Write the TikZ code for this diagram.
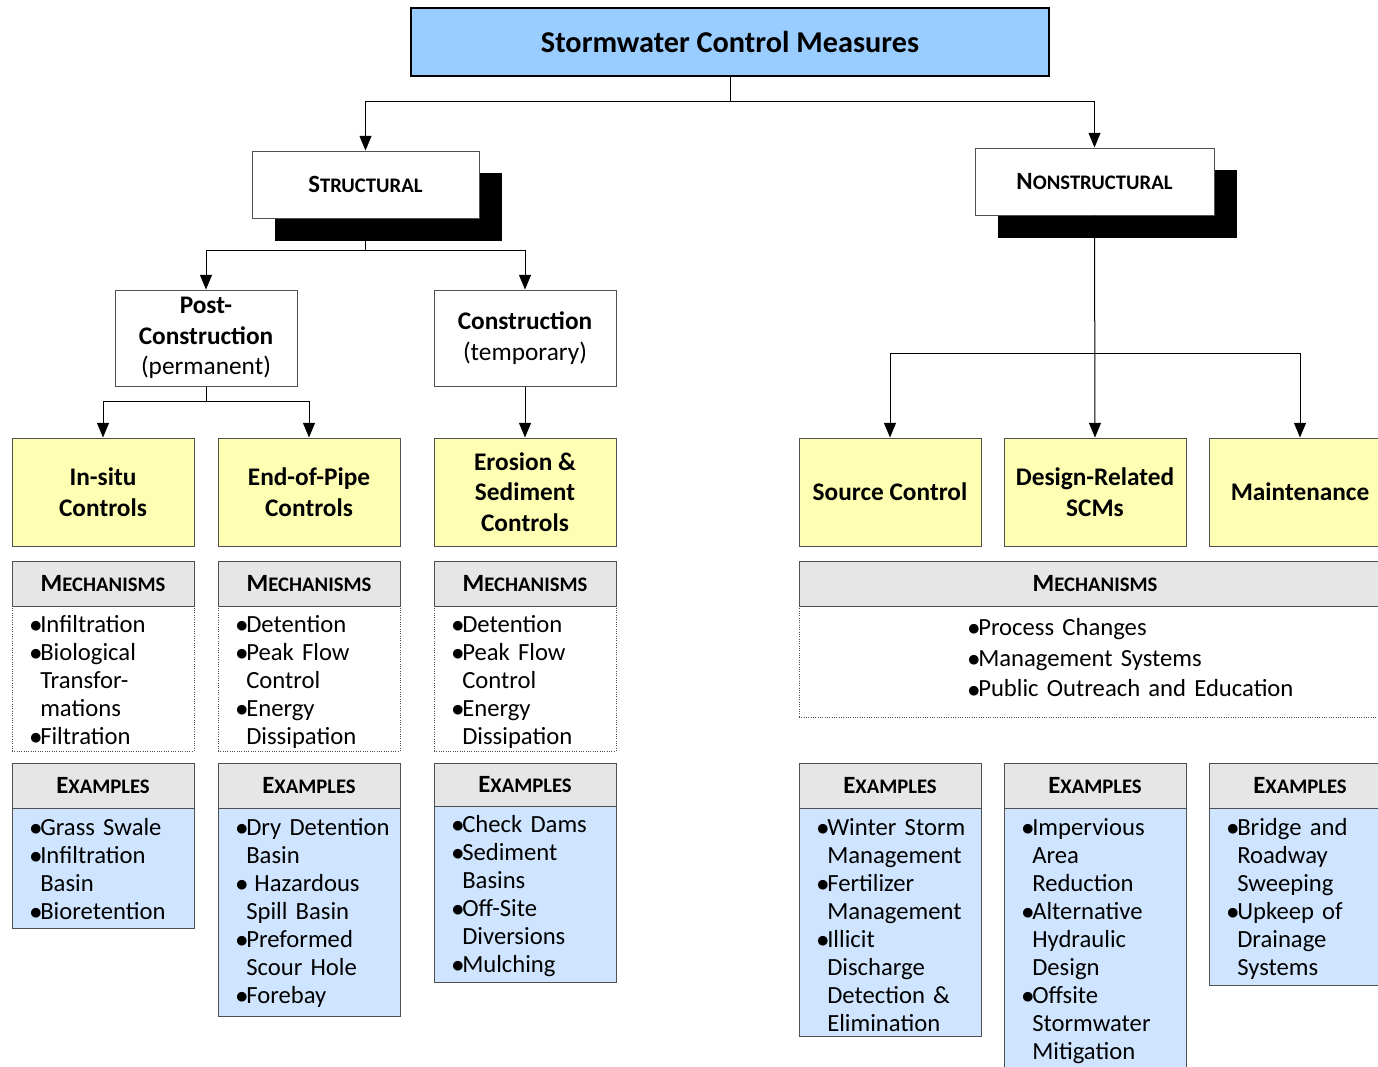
\documentclass[tikz,border=0pt]{standalone}
\usepackage{fontspec}
\setmainfont{Carlito}
\newfontfamily\dvs{DejaVu Sans}
\usetikzlibrary{arrows.meta}
\newlength\px \setlength\px{0.75pt}
\newcommand\bul{\makebox[10\px][l]{\raisebox{2pt}{\dvs\fontsize{9.5}{10}\selectfont ●}}}
\newcommand\ind{\hspace*{10\px}}
\newcommand\hd[2]{{\bfseries\fontsize{18.6}{20}\selectfont #1\fontsize{15.5}{20}\selectfont #2}}
\newcommand\bodyfont{\fontsize{18.5}{21}\selectfont}
\newcommand\rmfontb{\fontsize{18.5}{22.9}\selectfont}
\newcommand\boxfont{\fontsize{19}{23}\selectfont}
\newcommand\titlefont{\bfseries\fontsize{22.7}{26}\selectfont}
\definecolor{titleblue}{HTML}{99CCFF}
\definecolor{yel}{HTML}{FFFFB3}
\definecolor{exblue}{HTML}{CFE5FF}
\definecolor{hdgray}{HTML}{E6E6E6}
\definecolor{edge}{HTML}{505050}
\begin{document}
\begin{tikzpicture}[x=0.75pt,y=-0.75pt,
  sz/.style 2 args={minimum width=#1*0.75pt, minimum height=#2*0.75pt},
  box/.style={draw=edge, line width=1\px, inner sep=0pt, align=center},
  shadowbox/.style={fill=black, draw=none, inner sep=0pt},
  ybox/.style={box, fill=yel, font=\boxfont\bfseries},
  hdbox/.style={box, fill=hdgray},
  mbody/.style={draw=edge, densely dotted, line width=1\px, inner sep=0pt, fill=white},
  exbody/.style={box, fill=exblue},
  txt/.style={anchor=north west, inner sep=0pt, align=left, text width=175\px, font=\bodyfont},
  arr/.style={-{Triangle[width=9pt,length=11pt]}, line width=1\px, draw=black},
  ln/.style={line width=1\px, draw=black}]
\useasboundingbox (0,0) rectangle (1378,1067);
\clip (0,0) rectangle (1378,1067);

% top
\node[box, draw=black, line width=1.6\px, fill=titleblue, sz={638}{68}, font=\titlefont] (title) at (730,42) {Stormwater Control Measures};

% structural
\node[shadowbox, sz={227}{68}] (shS) at (388.5,207) {};
\node[box, fill=white, sz={227}{67}] (struct) at (365.5,184.5) {\hd{S}{TRUCTURAL}};
\node[shadowbox, sz={239}{68}] (shN) at (1117.5,204) {};
\node[box, fill=white, sz={239}{67}] (nonstr) at (1094.5,181.5) {\hd{N}{ONSTRUCTURAL}};

% second level
\node[box, fill=white, sz={182}{96}, font=\boxfont] (post) at (206,338) {\textbf{Post-}\\\textbf{Construction}\\(permanent)};
\node[box, fill=white, sz={182}{96}, font=\boxfont] (constr) at (525,338) {\textbf{Construction}\\(temporary)};

% yellow
\node[ybox, sz={182}{108}] (insitu) at (103,492) {In-situ\\Controls};
\node[ybox, sz={182}{108}] (endpipe) at (309,492) {End-of-Pipe\\Controls};
\node[ybox, sz={182}{108}] (erosion) at (525,492) {Erosion \&\\Sediment\\Controls};
\node[ybox, sz={182}{108}] (source) at (890,492) {Source Control};
\node[ybox, sz={182}{108}] (design) at (1095,492) {Design-Related\\SCMs};
\node[ybox, sz={182}{108}] (maint) at (1300,492) {Maintenance};

% connectors
\draw[arr] (title.south) -- ++(0,25) -| (struct.north);
\draw[arr] (title.south) -- ++(0,25) -| (nonstr.north);
\draw[arr] (struct.south) -- ++(0,32) -| (post.north);
\draw[arr] (struct.south) -- ++(0,32) -| (constr.north);
\draw[arr] (post.south) -- ++(0,15) -| (insitu.north);
\draw[arr] (post.south) -- ++(0,15) -| (endpipe.north);
\draw[arr] (constr.south) -- (erosion.north);
\coordinate (nsj) at (1095,353);
\draw[arr] (nonstr.south) -- (design.north);
\draw[arr] (nsj) -| (source.north);
\draw[arr] (nsj) -| (maint.north);

% mechanisms
\node[mbody, sz={182}{145}] (mb1) at (103,678.5) {};
\node[mbody, sz={182}{145}] (mb2) at (309,678.5) {};
\node[mbody, sz={182}{145}] (mb3) at (525,678.5) {};
\node[mbody, sz={592}{111}] (mb4) at (1095,661.5) {};
\node[hdbox, sz={182}{45}] (mh1) at (103,583.5) {\hd{M}{ECHANISMS}};
\node[hdbox, sz={182}{45}] (mh2) at (309,583.5) {\hd{M}{ECHANISMS}};
\node[hdbox, sz={182}{45}] (mh3) at (525,583.5) {\hd{M}{ECHANISMS}};
\node[hdbox, sz={592}{45}] (mh4) at (1095,583.5) {\hd{M}{ECHANISMS}};

\node[txt] (mt1) at (30,612.4) {\strut\bul Infiltration\\ \bul Biological\\ \ind Transfor-\\ \ind mations\\ \bul Filtration};
\node[txt] (mt2) at (236,612.4) {\strut\bul Detention\\ \bul Peak Flow\\ \ind Control\\ \bul Energy\\ \ind Dissipation};
\node[txt] (mt3) at (452,612.4) {\strut\bul Detention\\ \bul Peak Flow\\ \ind Control\\ \bul Energy\\ \ind Dissipation};
\node[txt, font=\rmfontb, text width=400\px] (mt4) at (968,614) {\strut\bul Process Changes\\ \bul Management Systems\\ \bul Public Outreach and Education};

% examples
\node[exbody, sz={182}{120}] (eb1) at (103,868) {};
\node[exbody, sz={182}{208}] (eb2) at (309,912) {};
\node[exbody, sz={182}{176}] (eb3) at (525,894) {};
\node[exbody, sz={182}{228}] (eb4) at (890,922) {};
\node[exbody, sz={182}{272}] (eb5) at (1095,944) {};
\node[exbody, sz={182}{177}] (eb6) at (1300,896.5) {};
\node[hdbox, sz={182}{45}] (eh1) at (103,785.5) {\hd{E}{XAMPLES}};
\node[hdbox, sz={182}{45}] (eh2) at (309,785.5) {\hd{E}{XAMPLES}};
\node[hdbox, sz={182}{43}] (eh3) at (525,784.5) {\hd{E}{XAMPLES}};
\node[hdbox, sz={182}{45}] (eh4) at (890,785.5) {\hd{E}{XAMPLES}};
\node[hdbox, sz={182}{45}] (eh5) at (1095,785.5) {\hd{E}{XAMPLES}};
\node[hdbox, sz={182}{45}] (eh6) at (1300,785.5) {\hd{E}{XAMPLES}};

\node[txt] (et1) at (30,815.4) {\strut\bul Grass Swale\\ \bul Infiltration\\ \ind Basin\\ \bul Bioretention};
\node[txt] (et2) at (236,815.4) {\strut\bul Dry Detention\\ \ind Basin\\ \bul\ Hazardous\\ \ind Spill Basin\\ \bul Preformed\\ \ind Scour Hole\\ \bul Forebay};
\node[txt] (et3) at (452,812.4) {\strut\bul Check Dams\\ \bul Sediment\\ \ind Basins\\ \bul Off-Site\\ \ind Diversions\\ \bul Mulching};
\node[txt] (et4) at (817,815.4) {\strut\bul Winter Storm\\ \ind Management\\ \bul Fertilizer\\ \ind Management\\ \bul Illicit\\ \ind Discharge\\ \ind Detection \&\\ \ind Elimination};
\node[txt] (et5) at (1022,815.4) {\strut\bul Impervious\\ \ind Area\\ \ind Reduction\\ \bul Alternative\\ \ind Hydraulic\\ \ind Design\\ \bul Offsite\\ \ind Stormwater\\ \ind Mitigation};
\node[txt] (et6) at (1227,815.4) {\strut\bul Bridge and\\ \ind Roadway\\ \ind Sweeping\\ \bul Upkeep of\\ \ind Drainage\\ \ind Systems};
\end{tikzpicture}
\end{document}
